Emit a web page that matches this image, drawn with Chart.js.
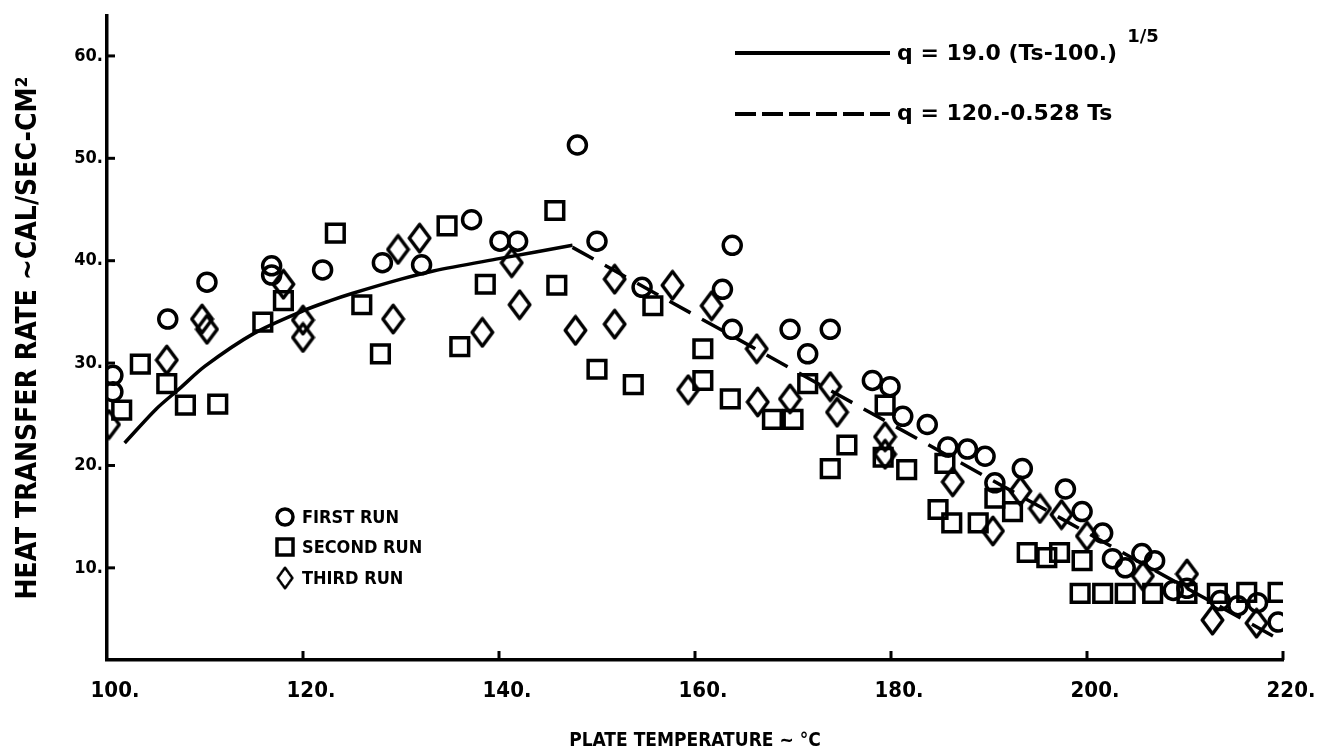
<!DOCTYPE html>
<html>
<head>
<meta charset="utf-8">
<script src="https://cdn.jsdelivr.net/npm/chart.js@4.4.1/dist/chart.umd.min.js"></script>
<style>
  html, body { margin: 0; padding: 0; background: #fff; }
</style>
</head>
<body>
<canvas id="grafico" width="1317" height="754"></canvas>
<script>
// data: [plate temperature, heat transfer rate]
const firstRun = [
  [100.6, 28.8], [100.6, 27.2], [106.2, 34.3], [110.2, 37.9], [116.8, 39.5], [116.8, 38.6],
  [122.0, 39.1], [128.1, 39.8], [132.1, 39.6], [137.2, 44.0], [140.1, 41.9], [141.9, 41.9],
  [148.0, 51.3], [150.0, 41.9], [154.6, 37.4], [162.8, 37.2], [163.8, 41.5], [163.8, 33.3],
  [169.7, 33.3], [173.8, 33.3], [171.5, 30.9], [178.1, 28.3], [179.9, 27.7], [181.2, 24.8],
  [183.7, 24.0], [185.8, 21.8], [187.8, 21.6], [189.6, 20.9], [193.4, 19.7], [190.6, 18.3],
  [197.8, 17.7], [199.5, 15.5], [201.6, 13.4], [202.6, 10.9], [203.9, 10.0], [205.6, 11.4],
  [206.9, 10.7], [208.8, 7.8], [210.2, 8.0], [213.6, 6.8], [215.4, 6.3], [217.4, 6.6], [219.5, 4.7]
];
const secondRun = [
  [101.5, 25.4], [103.4, 29.9], [106.1, 28.0], [108.0, 25.9], [111.3, 26.0], [115.9, 34.0],
  [118.0, 36.1], [123.3, 42.7], [126.0, 35.7], [127.9, 30.9], [134.7, 43.4], [136.0, 31.6],
  [138.6, 37.7], [145.7, 44.9], [145.9, 37.6], [150.0, 29.4], [153.7, 27.9], [155.7, 35.6],
  [160.8, 31.4], [160.8, 28.3], [163.6, 26.5], [167.9, 24.5], [170.0, 24.5], [171.5, 28.0],
  [173.8, 19.7], [175.5, 22.0], [179.4, 25.9], [179.2, 20.8], [181.6, 19.6], [184.8, 15.7],
  [185.5, 20.2], [186.2, 14.4], [188.9, 14.4], [190.6, 16.8], [192.4, 15.5], [193.9, 11.5],
  [195.9, 11.0], [197.2, 11.5], [199.5, 10.7], [199.3, 7.5], [201.6, 7.5], [203.9, 7.5],
  [206.7, 7.5], [210.2, 7.5], [213.3, 7.5], [216.3, 7.6], [219.5, 7.6]
];
const thirdRun = [
  [100.2, 24.0], [106.1, 30.3], [109.7, 34.3], [110.2, 33.3], [118.0, 37.7], [120.0, 34.2],
  [120.0, 32.5], [129.2, 34.3], [129.7, 41.1], [131.9, 42.2], [138.3, 33.0], [141.3, 39.8],
  [142.1, 35.7], [147.8, 33.2], [151.8, 38.2], [151.8, 33.8], [157.7, 37.6], [159.3, 27.4],
  [161.7, 35.6], [166.3, 31.4], [166.4, 26.2], [169.7, 26.5], [173.8, 27.7], [174.5, 25.2],
  [179.4, 22.8], [179.4, 21.1], [186.3, 18.4], [190.4, 13.6], [193.2, 17.5], [195.2, 15.8],
  [197.4, 15.2], [200.0, 13.1], [205.7, 9.2], [210.2, 9.4], [212.8, 4.9], [217.3, 4.6]
];

// fitted curves
const powerFitX = [101.8, 105, 107.4, 110, 115, 120, 122.8, 125, 130, 133.3, 140, 147.5];
const powerFitY = [22.2, 25.5, 27.5, 29.7, 32.9, 35.1, 36.1, 36.8, 38.2, 39.0, 40.2, 41.5];
const linearFitX = [147.5, 220];
const linearFitY = [41.3, 2.8];

const xTickValues = [100, 120, 140, 160, 180, 200, 220];
const yTickValues = [10, 20, 30, 40, 50, 60];
const runLabels = ['FIRST RUN', 'SECOND RUN', 'THIRD RUN'];
const fitLabels = ['q = 19.0 (Ts-100.)', '1/5', 'q = 120.-0.528 Ts'];

const toPoints = arr => arr.map(p => ({x: p[0], y: p[1]}));
const zip = (xs, ys) => xs.map((x, i) => ({x: x, y: ys[i]}));

// tall diamond marker
function makeDiamond(w, h, lw) {
  const c = document.createElement('canvas');
  c.width = w; c.height = h;
  const g = c.getContext('2d');
  g.strokeStyle = '#000';
  g.lineWidth = lw;
  g.lineJoin = 'round';
  g.beginPath();
  g.moveTo(w / 2, lw / 2 + 0.5);
  g.lineTo(w - lw / 2 - 0.5, h / 2);
  g.lineTo(w / 2, h - lw / 2 - 0.5);
  g.lineTo(lw / 2 + 0.5, h / 2);
  g.closePath();
  g.stroke();
  return c;
}
const diamond = makeDiamond(25, 32, 3.5);

const FONT_FAMILY = '"DejaVu Sans Condensed", "DejaVu Sans", sans-serif';
const WIDE_FAMILY = '"DejaVu Sans", sans-serif';

const annotate = {
  id: 'annotate',
  afterDraw(chart) {
    const ctx = chart.ctx;
    const xs = chart.scales.x, ys = chart.scales.y;
    ctx.save();
    ctx.strokeStyle = '#000';
    ctx.fillStyle = '#000';

    // tick marks pointing into the plot
    ctx.lineWidth = 3;
    yTickValues.forEach(v => {
      const py = ys.getPixelForValue(v);
      ctx.beginPath(); ctx.moveTo(xs.left, py); ctx.lineTo(xs.left + 8, py); ctx.stroke();
    });
    xTickValues.slice(1).forEach(v => {
      const px = xs.getPixelForValue(v);
      ctx.beginPath(); ctx.moveTo(px, ys.bottom); ctx.lineTo(px, ys.bottom - 9); ctx.stroke();
    });

    // key for the fitted lines
    ctx.lineWidth = 4;
    ctx.beginPath(); ctx.moveTo(735, 53); ctx.lineTo(890, 53); ctx.stroke();
    ctx.setLineDash([21, 6]);
    ctx.beginPath(); ctx.moveTo(735, 114); ctx.lineTo(890, 114); ctx.stroke();
    ctx.setLineDash([]);
    ctx.textBaseline = 'middle';
    ctx.textAlign = 'left';
    ctx.font = 'bold 22px ' + WIDE_FAMILY;
    ctx.fillText(fitLabels[0], 897, 54);
    const w = ctx.measureText(fitLabels[0]).width;
    ctx.fillText(fitLabels[2], 897, 114);
    ctx.font = 'bold 18px ' + WIDE_FAMILY;
    ctx.fillText(fitLabels[1], 897 + w + 10, 37);

    // key for the runs
    ctx.lineWidth = 3.5;
    ctx.beginPath(); ctx.arc(285, 517, 8, 0, Math.PI * 2); ctx.stroke();
    ctx.strokeRect(277, 539, 16, 16);
    ctx.drawImage(diamond, 285 - 9, 578 - 12, 18, 24);
    ctx.font = 'bold 18px ' + FONT_FAMILY;
    ctx.fillText(runLabels[0], 302, 518);
    ctx.fillText(runLabels[1], 302, 548);
    ctx.fillText(runLabels[2], 302, 579);
    ctx.restore();
  }
};

const ctx = document.getElementById('grafico').getContext('2d');

new Chart(ctx, {
  type: 'scatter',
  data: {
    datasets: [
      {
        label: runLabels[0],
        data: toPoints(firstRun),
        pointStyle: 'circle',
        pointRadius: 9,
        pointBorderWidth: 3.5,
        borderColor: '#000',
        backgroundColor: 'rgba(0,0,0,0)'
      },
      {
        label: runLabels[1],
        data: toPoints(secondRun),
        pointStyle: 'rect',
        pointRadius: 12.5,
        pointBorderWidth: 3.5,
        borderColor: '#000',
        backgroundColor: 'rgba(0,0,0,0)'
      },
      {
        label: runLabels[2],
        data: toPoints(thirdRun),
        pointStyle: diamond,
        pointRadius: 12,
        borderColor: '#000',
        backgroundColor: 'rgba(0,0,0,0)'
      },
      {
        label: 'power fit',
        data: zip(powerFitX, powerFitY),
        showLine: true,
        pointRadius: 0,
        borderColor: '#000',
        borderWidth: 3.5,
        tension: 0.3
      },
      {
        label: 'linear fit',
        data: zip(linearFitX, linearFitY),
        showLine: true,
        pointRadius: 0,
        borderColor: '#000',
        borderWidth: 3.5,
        borderDash: [24, 13]
      }
    ]
  },
  options: {
    responsive: false,
    animation: false,
    layout: { padding: { top: 5, right: 34, left: 0, bottom: 0 } },
    plugins: {
      legend: { display: false },
      tooltip: { enabled: false }
    },
    scales: {
      x: {
        type: 'linear',
        min: 100,
        max: 220,
        afterBuildTicks: s => { s.ticks = xTickValues.map(v => ({value: v})); },
        afterFit: s => { s.height = 94; s.paddingRight = 0; s.paddingLeft = 0; },
        grid: { display: false, drawTicks: false },
        border: { display: true, color: '#000', width: 3.5 },
        ticks: {
          color: '#000',
          padding: 18,
          labelOffset: 8,
          maxRotation: 0,
          font: { family: FONT_FAMILY, size: 22, weight: 'bold' },
          callback: v => v + '.'
        },
        title: {
          display: true,
          text: 'PLATE TEMPERATURE ~ °C',
          color: '#000',
          padding: { top: 0, bottom: 2 },
          font: { family: FONT_FAMILY, size: 19, weight: 'bold' }
        }
      },
      y: {
        type: 'linear',
        min: 1,
        max: 63.9,
        afterBuildTicks: s => { s.ticks = yTickValues.map(v => ({value: v})); },
        afterFit: s => { s.width = 107; s.paddingTop = 0; s.paddingBottom = 0; },
        grid: { display: false, drawTicks: false },
        border: { display: true, color: '#000', width: 3.5 },
        ticks: {
          color: '#000',
          padding: 4,
          font: { family: FONT_FAMILY, size: 18, weight: 'bold' },
          callback: v => v + '.'
        },
        title: {
          display: true,
          text: 'HEAT TRANSFER RATE ~CAL/SEC-CM²',
          color: '#000',
          padding: { top: 12, bottom: 0 },
          font: { family: FONT_FAMILY, size: 28, weight: 'bold' }
        }
      }
    }
  },
  plugins: [annotate]
});
</script>
</body>
</html>
